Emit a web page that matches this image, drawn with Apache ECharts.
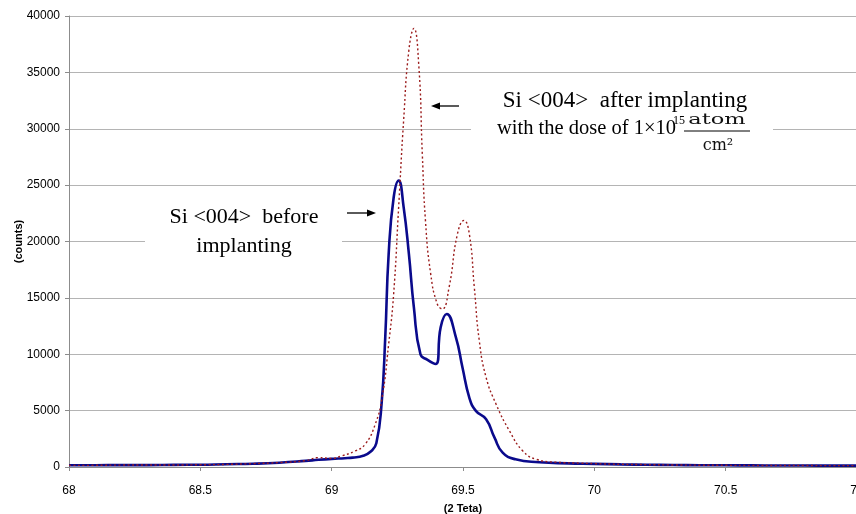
<!DOCTYPE html>
<html>
<head>
<meta charset="utf-8">
<script src="https://cdn.jsdelivr.net/npm/echarts@6/dist/echarts.min.js"></script>
<style>
  html, body { margin: 0; padding: 0; background: #fff; }
  #chart { width: 856px; height: 514px; }
</style>
</head>
<body>
<div id="chart"></div>
<script>
// ---- data ----
var xTicks = [68, 68.5, 69, 69.5, 70, 70.5, 71];
var yTicks = [0, 5000, 10000, 15000, 20000, 25000, 30000, 35000, 40000];

var beforeX = [68.0, 68.1, 68.2, 68.3, 68.4, 68.5, 68.6, 68.7, 68.8, 68.9, 68.95, 69.0, 69.05, 69.08, 69.12, 69.15, 69.17,
  69.19, 69.204, 69.217, 69.236, 69.255, 69.274, 69.294, 69.313, 69.338, 69.365, 69.396, 69.415, 69.438, 69.473,
  69.498, 69.524, 69.549, 69.588, 69.62, 69.651, 69.70, 69.79, 69.9, 70.0, 70.1, 70.2, 70.3, 70.4, 70.5, 70.6, 70.7,
  70.8, 70.9, 71.0];
var beforeY = [150, 160, 170, 170, 190, 200, 250, 290, 380, 540, 640, 720, 780, 830, 1000, 1400, 2100,
  5600, 11500, 18900, 23900, 25400, 23050, 18900, 14160, 10000, 9500, 9130, 12400, 13570, 11500,
  8830, 6160, 4980, 4240, 2600, 1270, 680, 420, 320, 280, 230, 200, 180, 160, 150, 140, 130,
  130, 120, 120];

var afterX = [68.0, 68.1, 68.2, 68.3, 68.4, 68.5, 68.6, 68.7, 68.8, 68.9, 68.95, 69.0, 69.038, 69.089, 69.127, 69.166,
  69.192, 69.217, 69.236, 69.255, 69.274, 69.294, 69.313, 69.332, 69.345, 69.357, 69.377, 69.402, 69.421, 69.447,
  69.479, 69.504, 69.524, 69.543, 69.562, 69.588, 69.626, 69.677, 69.728, 69.779, 69.856, 69.95, 70.0, 70.1, 70.2,
  70.3, 70.4, 70.5, 70.6, 70.7, 70.8, 70.9, 71.0];
var afterY = [140, 150, 170, 180, 180, 200, 230, 300, 390, 560, 830, 760, 980, 1420, 2000, 3800,
  6160, 10900, 15350, 23050, 30750, 36980, 38900, 35500, 27800, 21870, 17130, 14460, 14020, 15940,
  20680, 21870, 20680, 15940, 11200, 7940, 5570, 3200, 1420, 680, 420, 340, 300, 240, 210,
  180, 160, 150, 140, 130, 130, 120, 120];

var xName = '(2 Teta)';
var yName = '(counts)';

function zip(xs, ys) { return xs.map(function (x, i) { return [x, ys[i]]; }); }

var chart = echarts.init(document.getElementById('chart'), null, { renderer: 'canvas' });

var serif = '"Liberation Serif", "Times New Roman", serif';
var sans = '"Liberation Sans", Arial, sans-serif';

var option = {
  animation: false,
  backgroundColor: '#ffffff',
  grid: { left: 69, right: -1, top: 16, bottom: 47, containLabel: false, outerBoundsMode: 'none' },
  xAxis: {
    type: 'value',
    min: xTicks[0], max: xTicks[xTicks.length - 1], interval: 0.5,
    name: xName, nameLocation: 'middle', nameGap: 36, nameMoveOverlap: false,
    nameTextStyle: { fontFamily: sans, fontWeight: 'bold', fontSize: 11, color: '#000' },
    axisLine: { show: true, lineStyle: { color: '#8c8c8c', width: 1 } },
    axisTick: { show: true, length: 4, lineStyle: { color: '#8c8c8c' } },
    axisLabel: { fontFamily: sans, fontSize: 12, color: '#000', margin: 18, showMaxLabel: true,
      formatter: function (v) { return String(v); } },
    splitLine: { show: false }
  },
  yAxis: {
    type: 'value',
    min: yTicks[0], max: yTicks[yTicks.length - 1], interval: 5000,
    name: yName, nameLocation: 'middle', nameGap: 45, nameRotate: 90, nameMoveOverlap: false,
    nameTextStyle: { fontFamily: sans, fontWeight: 'bold', fontSize: 11, color: '#000' },
    axisLine: { show: true, lineStyle: { color: '#8c8c8c', width: 1 } },
    axisTick: { show: true, length: 4, lineStyle: { color: '#8c8c8c' } },
    axisLabel: { fontFamily: sans, fontSize: 12, color: '#000', margin: 9,
      formatter: function (v) { return String(v); } },
    splitLine: { show: true, lineStyle: { color: '#b4b4b4', width: 1 } }
  },
  series: [
    {
      name: 'before', type: 'line', data: zip(beforeX, beforeY),
      showSymbol: false, smooth: 0.5, z: 3,
      lineStyle: { color: '#0a0a8c', width: 2.6 }
    },
    {
      name: 'after', type: 'line', data: zip(afterX, afterY),
      showSymbol: false, smooth: 0.5, z: 4,
      lineStyle: { color: '#9b1c1c', width: 1.4, type: [2, 2.5] }
    }
  ],
  graphic: [
    // white boxes behind the annotations
    { type: 'rect', z: 100, shape: { x: 145, y: 193, width: 197, height: 70 }, style: { fill: '#fff' } },
    { type: 'rect', z: 100, shape: { x: 471, y: 82, width: 302, height: 80 }, style: { fill: '#fff' } },
    // before annotation
    { type: 'text', z: 101, x: 244, y: 232, style: {
        text: 'Si <004>  before\nimplanting', align: 'center', verticalAlign: 'middle',
        font: '22px ' + serif, fill: '#000', lineHeight: 29 } },
    { type: 'line', z: 101, shape: { x1: 347, y1: 213, x2: 370, y2: 213 }, style: { stroke: '#000', lineWidth: 1.3 } },
    { type: 'polygon', z: 101, shape: { points: [[376, 213], [367, 209.5], [367, 216.5]] }, style: { fill: '#000' } },
    // after annotation
    { type: 'text', z: 101, x: 625, y: 101, style: {
        text: 'Si <004>  after implanting', align: 'center', verticalAlign: 'middle',
        font: '23px ' + serif, fill: '#000' } },
    { type: 'text', z: 101, x: 497, y: 129, style: {
        text: 'with the dose of 1\u00d710', align: 'left', verticalAlign: 'middle',
        font: '20.5px ' + serif, fill: '#000' } },
    { type: 'text', z: 101, x: 673, y: 121, style: {
        text: '15', align: 'left', verticalAlign: 'middle',
        font: '12px ' + serif, fill: '#000' } },
    { type: 'text', z: 101, x: 717, y: 120, scaleX: 1.5, style: {
        text: 'atom', align: 'center', verticalAlign: 'middle',
        font: '15px "DejaVu Serif", serif', fill: '#111' } },
    { type: 'line', z: 101, shape: { x1: 684, y1: 131, x2: 750, y2: 131 }, style: { stroke: '#000', lineWidth: 1 } },
    { type: 'text', z: 101, x: 718, y: 146, style: {
        text: 'cm\u00b2', align: 'center', verticalAlign: 'middle',
        font: '16px "DejaVu Serif", serif', fill: '#111' } },
    { type: 'line', z: 101, shape: { x1: 438, y1: 106, x2: 459, y2: 106 }, style: { stroke: '#000', lineWidth: 1.3 } },
    { type: 'polygon', z: 101, shape: { points: [[431, 106], [440, 102.5], [440, 109.5]] }, style: { fill: '#000' } }
  ]
};
chart.setOption(option);
</script>
</body>
</html>
